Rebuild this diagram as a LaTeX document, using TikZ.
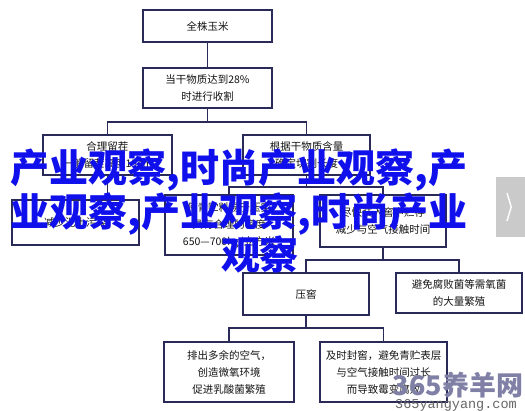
\documentclass[tikz,border=0pt]{standalone}
\usepackage{fontspec}
\setmainfont{Noto Sans CJK SC}
\newfontfamily\cjk{Noto Sans CJK SC}
\newfontfamily\monof{Liberation Mono}
\usetikzlibrary{positioning}
\definecolor{edge}{RGB}{42,42,88}
\definecolor{ink}{RGB}{20,20,20}
\definecolor{over}{RGB}{16,16,236}
\definecolor{wmark}{RGB}{128,128,166}
\definecolor{tab}{RGB}{202,202,202}
\tikzset{
  box/.style={draw=edge, line width=1.5pt, fill=white, align=center, text=ink, inner sep=0pt, font=\cjk\fontsize{10.5}{17}\selectfont},
  link/.style={draw=edge, line width=1.3pt},
  overlay text/.style={text=over, align=center, inner sep=0pt, font=\cjk\bfseries\fontsize{39}{39}\selectfont},
}
\begin{document}
\begin{tikzpicture}[x=1pt,y=-1pt]
  \useasboundingbox (0,0) rectangle (525,411);
  \fill[white] (0,0) rectangle (525,411);
  \node[box, minimum width=129pt, minimum height=32pt] (plant) at (207.5,26) {全株玉米};
  \node[box, minimum width=129pt, minimum height=40pt] (dry) at (207.5,88) {当干物质达到28\%\\时进行收割};
  \node[box, minimum width=129pt, minimum height=40pt] (stub) at (107.5,155) {合理留茬\\一般留茬高度15cm};
  \node[box, minimum width=127pt, minimum height=40pt] (cut) at (306.5,155) {根据干物质含量\\确定切割长度};
  \node[box, minimum width=127pt, minimum height=45pt] (soil) at (75.5,222.5) {减少泥土污染};
  \node[box, minimum width=128pt, minimum height=60pt] (dens) at (229,225) {使青贮料易于压实\\具有合理的密度\\650—700kg/立方米};
  \node[box, minimum width=126pt, minimum height=52pt] (store) at (383,221) {尽快装入窖中贮存\\减少与空气接触时间};
  \node[box, minimum width=126pt, minimum height=42pt] (press) at (306,294) {压窖};
  \node[box, minimum width=126pt, minimum height=40pt] (aer) at (459,293) {避免腐败菌等需氧菌\\的大量繁殖};
  \node[box, minimum width=130pt, minimum height=60pt] (air) at (229,372) {排出多余的空气，\\创造微氧环境\\促进乳酸菌繁殖};
  \node[box, minimum width=127pt, minimum height=60pt] (seal) at (383.5,372) {及时封窖，避免青贮表层\\与空气接触时间过长\\而导致霉变腐败};

  \coordinate (j1) at (207.5,122);
  \coordinate (j2) at (306.5,187);
  \coordinate (j3) at (383,260);
  \coordinate (j4) at (306,328);
  \draw[link] (plant) -- (dry);
  \draw[link] (dry) -- (j1);
  \draw[link] (stub.north) -- (stub.north |- j1) -- (cut.north |- j1) -- (cut.north);
  \draw[link] (stub.south) -- (stub.south |- soil.north);
  \draw[link] (cut.south) -- (j2);
  \draw[link] (dens.north) -- (dens.north |- j2) -- (store.north |- j2) -- (store.north);
  \draw[link] (store.south) -- (j3);
  \draw[link] (press.north) -- (press.north |- j3) -- (aer.north |- j3) -- (aer.north);
  \draw[link] (press.south) -- (j4);
  \draw[link] (air.north) -- (air.north |- j4) -- (seal.north |- j4) -- (seal.north);

  \node[overlay text] (ads) at (239,211) {产业观察,时尚产业观察,产\\业观察,产业观察,时尚产业\\\hspace*{42pt}观察};

  \fill[tab] (496,177) rectangle (525,237);
  \node[inner sep=0pt] (next) at (510.5,207) {};
  \draw[white, line width=1.4pt] (507,193) -- (next.east) -- (507,221);

  \node[text=wmark, inner sep=0pt, font=\cjk\bfseries\fontsize{27}{27}\selectfont] (logo) at (458,385) {365养羊网};
  \node[text=black!60, inner sep=0pt, font=\monof\fontsize{13.5}{14}\selectfont] (site) at (456,405) {365yangyang.com};
\end{tikzpicture}
\end{document}
